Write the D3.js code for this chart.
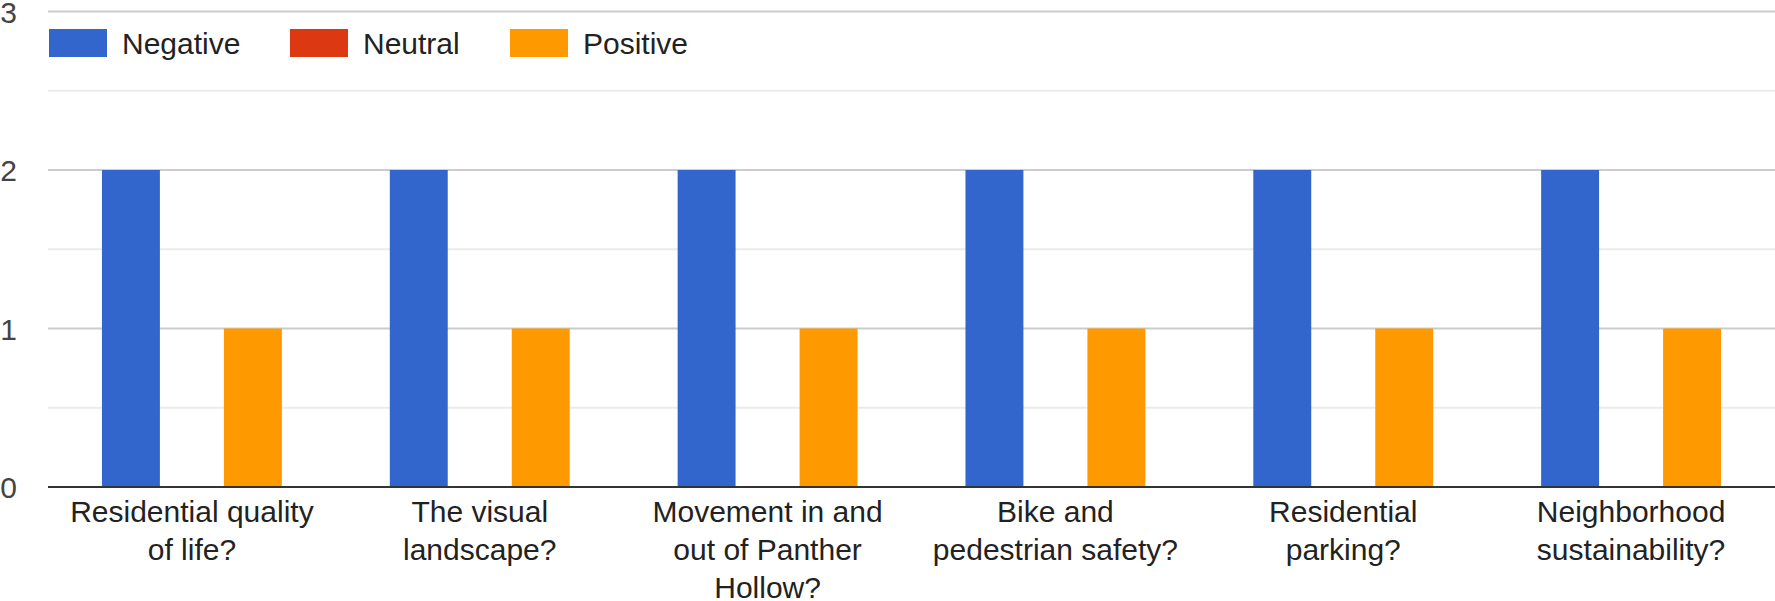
<!DOCTYPE html>
<html>
<head>
<meta charset="utf-8">
<script src="https://cdn.jsdelivr.net/npm/d3@7"></script>
<style>
  body { margin: 0; background: #fff; }
  svg { display: block; }
</style>
</head>
<body>
<svg id="chart" width="1775" height="601"></svg>
<script>
// categories, with line breaks as the chart wraps them
var categories = [
    "Residential quality\nof life?",
    "The visual\nlandscape?",
    "Movement in and\nout of Panther\nHollow?",
    "Bike and\npedestrian safety?",
    "Residential\nparking?",
    "Neighborhood\nsustainability?"
];
var seriesNames = ["Negative", "Neutral", "Positive"];
var seriesColors = ["#3366cc", "#dc3912", "#ff9900"];
var negative = [2, 2, 2, 2, 2, 2];
var neutral = [0, 0, 0, 0, 0, 0];
var positive = [1, 1, 1, 1, 1, 1];
var yTicks = [0, 1, 2, 3];
var yMinorTicks = [0.5, 1.5, 2.5];

var svg = d3.select("#chart"),
    fontFamily = "'Liberation Sans', Arial, sans-serif",
    plotLeft = 48,
    plotRight = 1775,
    plotTop = 11.5,
    plotBottom = 487;

var values = [negative, neutral, positive];

var x0 = d3.scaleBand()
    .domain(d3.range(categories.length))
    .range([plotLeft, plotRight])
    .paddingInner(0.375)
    .paddingOuter(0.1875);

var x1 = d3.scaleBand()
    .domain(d3.range(seriesNames.length))
    .range([0, x0.bandwidth()])
    .paddingInner(0.05)
    .paddingOuter(0);

var y = d3.scaleLinear()
    .domain([0, 3])
    .range([plotBottom, plotTop]);

// minor gridlines
svg.append("g").selectAll("line")
    .data(yMinorTicks)
    .enter()
    .append("line")
    .attr("x1", plotLeft)
    .attr("x2", plotRight)
    .attr("y1", function(d) { return y(d); })
    .attr("y2", function(d) { return y(d); })
    .style("stroke", "#ebebeb")
    .style("stroke-width", 2);

// major gridlines
svg.append("g").selectAll("line")
    .data(yTicks.filter(function(d) { return d > 0; }))
    .enter()
    .append("line")
    .attr("x1", plotLeft)
    .attr("x2", plotRight)
    .attr("y1", function(d) { return y(d); })
    .attr("y2", function(d) { return y(d); })
    .style("stroke", "#cccccc")
    .style("stroke-width", 2);

// y labels
svg.append("g").selectAll("text")
    .data(yTicks)
    .enter()
    .append("text")
    .attr("x", 17)
    .attr("y", function(d) { return y(d) + 11; })
    .attr("text-anchor", "end")
    .style("font-family", fontFamily)
    .style("font-size", "30px")
    .style("fill", "#444")
    .text(function(d) { return d; });

// bars
var groups = svg.append("g").selectAll("g")
    .data(categories)
    .enter()
    .append("g")
    .attr("transform", function(d, i) { return "translate(" + x0(i) + ",0)"; });

groups.selectAll("rect")
    .data(function(d, i) {
        return values.map(function(s, j) { return { series: j, value: s[i] }; });
    })
    .enter()
    .append("rect")
    .attr("x", function(d) { return x1(d.series); })
    .attr("width", x1.bandwidth())
    .attr("y", function(d) { return y(d.value); })
    .attr("height", function(d) { return y(0) - y(d.value); })
    .style("fill", function(d) { return seriesColors[d.series]; });

// baseline
svg.append("line")
    .attr("x1", plotLeft)
    .attr("x2", plotRight)
    .attr("y1", y(0))
    .attr("y2", y(0))
    .style("stroke", "#333")
    .style("stroke-width", 2);

// category labels
svg.append("g").selectAll("text")
    .data(categories)
    .enter()
    .append("text")
    .attr("text-anchor", "middle")
    .style("font-family", fontFamily)
    .style("font-size", "30px")
    .style("fill", "#222")
    .each(function(d, i) {
        var t = d3.select(this),
            cx = x0(i) + x0.bandwidth() / 2;
        d.split("\n").forEach(function(line, k) {
            t.append("tspan")
                .attr("x", cx)
                .attr("y", 522 + k * 38)
                .text(line);
        });
    });

// legend
var legendX = [49, 290, 510];
var legend = svg.append("g").selectAll("g")
    .data(seriesNames)
    .enter()
    .append("g")
    .attr("transform", function(d, i) { return "translate(" + legendX[i] + ",29)"; });

legend.append("rect")
    .attr("width", 58)
    .attr("height", 28)
    .style("fill", function(d, i) { return seriesColors[i]; });

legend.append("text")
    .attr("x", 73)
    .attr("y", 25)
    .style("font-family", fontFamily)
    .style("font-size", "30px")
    .style("fill", "#222")
    .text(function(d) { return d; });
</script>
</body>
</html>
